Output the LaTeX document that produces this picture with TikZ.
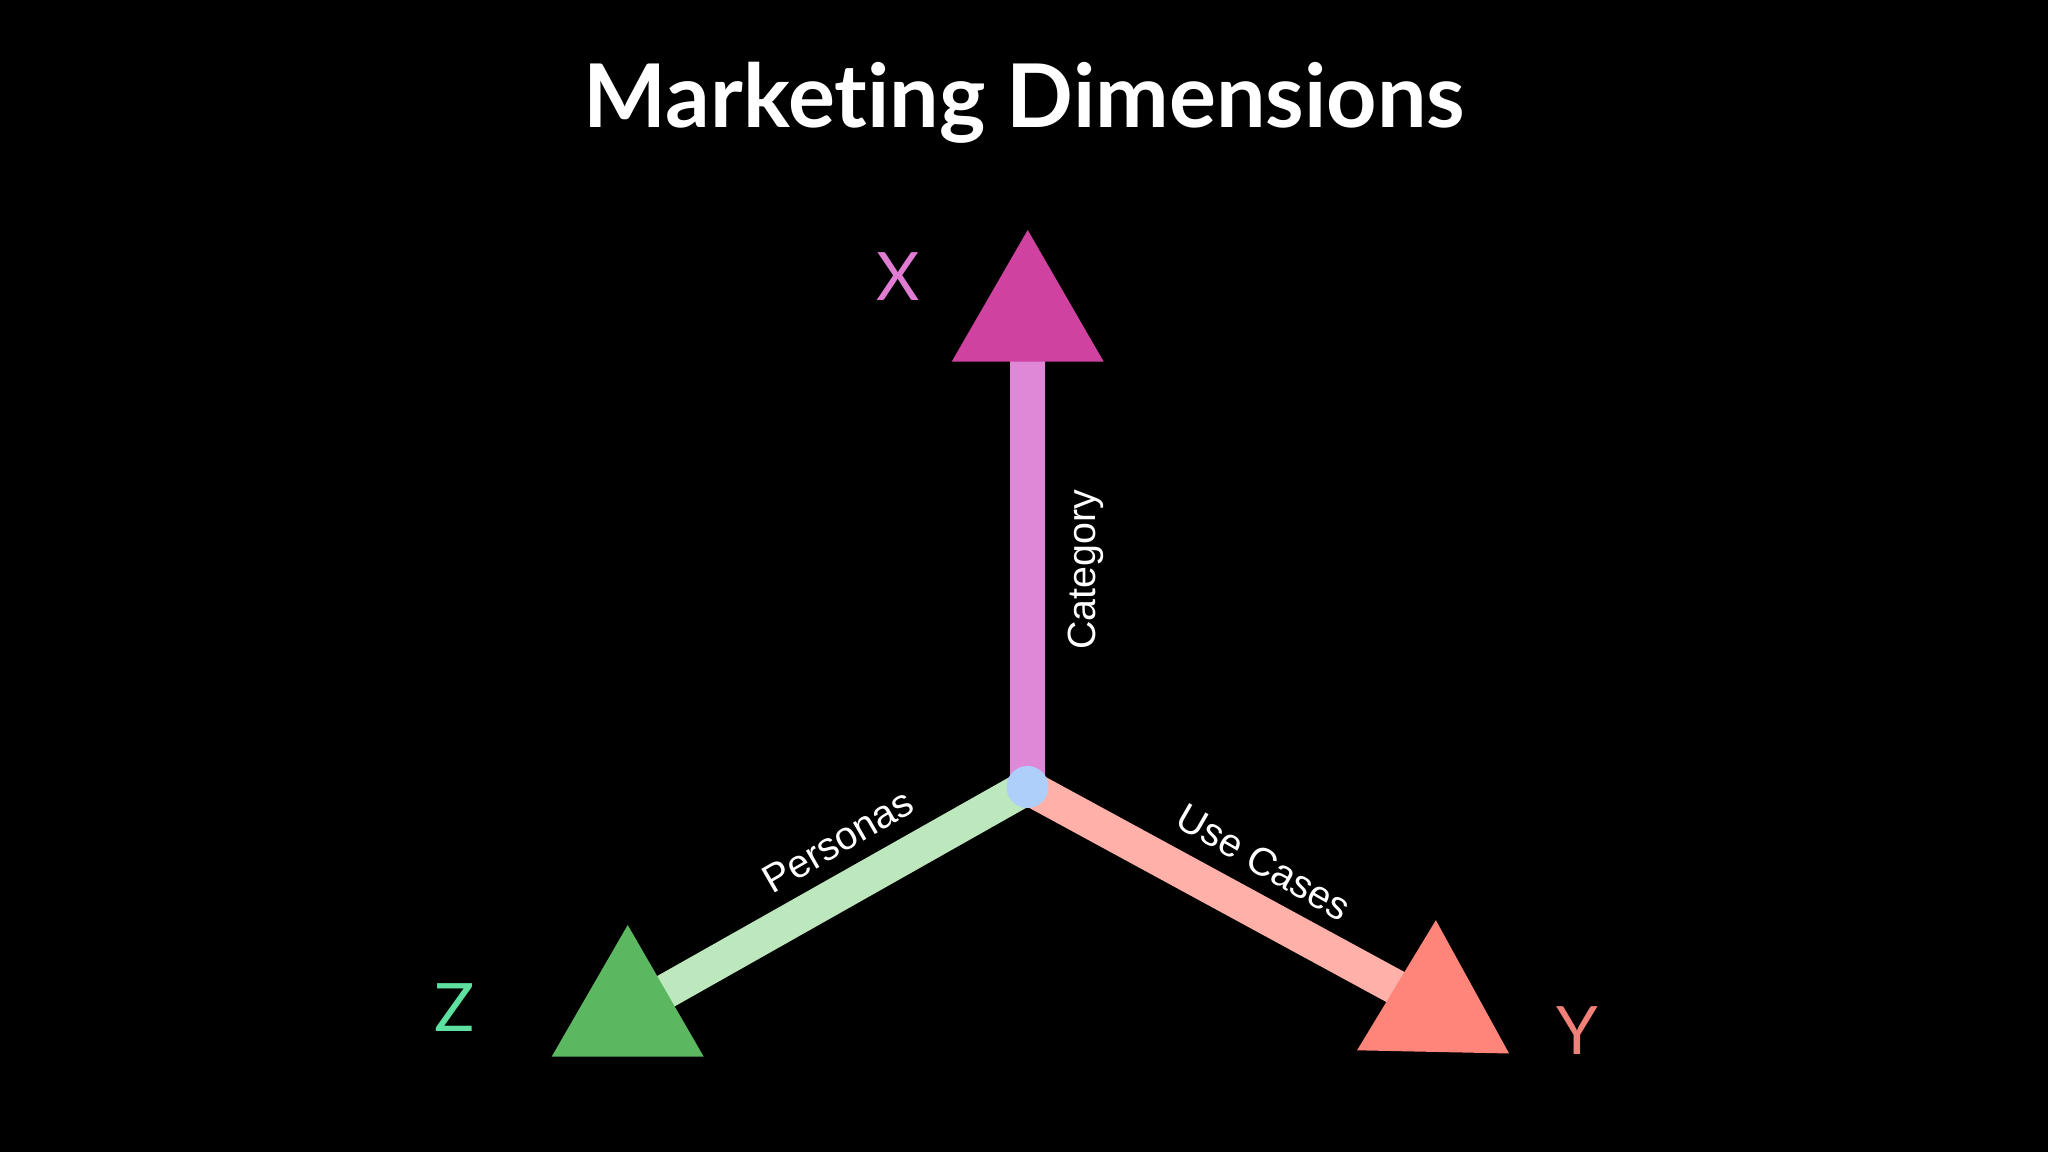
\documentclass[tikz,border=0pt]{standalone}
\usepackage{fontspec}
\setmainfont{Lato}[Ligatures=NoCommon]
\newfontfamily\arialfont{Liberation Sans}
\usetikzlibrary{shapes.geometric}
\pgfdeclarelayer{bg}
\pgfdeclarelayer{bars}
\pgfsetlayers{bg,bars,main}
\definecolor{xtric}{HTML}{D042A0}
\definecolor{xbarc}{HTML}{E088D8}
\definecolor{xlabc}{HTML}{E07CD2}
\definecolor{ztric}{HTML}{5CB860}
\definecolor{zbarc}{HTML}{BDE8BD}
\definecolor{zlabc}{HTML}{5EE0A0}
\definecolor{ytric}{HTML}{FF857A}
\definecolor{ybarc}{HTML}{FFB0A8}
\definecolor{ylabc}{HTML}{F08078}
\definecolor{dotc}{HTML}{AECFFA}
\begin{document}
\begin{tikzpicture}[x=0.01cm,y=-0.01cm,
  tri/.style={regular polygon, regular polygon sides=3, minimum size=1.755cm, inner sep=0pt, draw=none},
  armbar/.style={line width=0.35cm},
  axl/.style={inner sep=0pt, font=\fontsize{19}{22}\selectfont},
  lab/.style={inner sep=0pt, text=white, font=\arialfont\fontsize{11.2}{13}\selectfont},
  ttl/.style={inner sep=0pt, text=white, font=\bfseries\fontsize{25}{30}\selectfont}]
\begin{pgfonlayer}{bg}
\fill[black] (0,0) rectangle (2048,1152);
\end{pgfonlayer}
\useasboundingbox (0,0) rectangle (2048,1152);
\node[ttl, anchor=base] (title) at (1024.5,128) {Marketing Dimensions};
\node[tri, fill=xtric] (tx) at (1027.7,317.8) {};
\node[tri, fill=ztric] (tz) at (627.7,1012.8) {};
\node[tri, fill=ytric, rotate=-1.2] (ty) at (1434,1008) {};
\node[circle, fill=dotc, minimum size=0.42cm, inner sep=0pt] (o) at (1027.5,787) {};
\begin{pgfonlayer}{bars}
\draw[armbar, draw=xbarc] (o.center) -- (tx.center);
\draw[armbar, draw=zbarc] (o.center) -- (tz.center);
\draw[armbar, draw=ybarc] (o.center) -- (ty.center);
\end{pgfonlayer}
\node[axl, text=xlabc] (lx) at (898.5,277) {X};
\node[axl, text=zlabc] (lz) at (454.7,1008) {Z};
\node[axl, text=ylabc] (ly) at (1577,1031) {Y};
\node[lab, rotate=90, anchor=base] (lcat) at (1095,570) {Category};
\node[lab, rotate=30] (lper) at (838,841) {Personas};
\node[lab, rotate=-30] (luse) at (1264,862) {Use Cases};
\end{tikzpicture}
\end{document}
